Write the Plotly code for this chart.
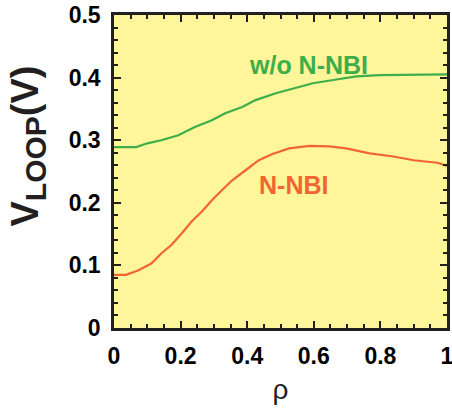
import plotly.graph_objects as go

rho_wo = [0.0, 0.067, 0.10, 0.142, 0.193, 0.243, 0.294, 0.334, 0.385, 0.425, 0.486,
          0.546, 0.597, 0.668, 0.728, 0.799, 0.9, 1.0]
v_wo = [0.289, 0.289, 0.295, 0.300, 0.308, 0.321, 0.332, 0.343, 0.353, 0.364, 0.375,
        0.383, 0.391, 0.397, 0.402, 0.404, 0.405, 0.405]

rho_n = [0.0, 0.036, 0.072, 0.112, 0.142, 0.173, 0.203, 0.233, 0.264, 0.294, 0.324,
         0.355, 0.395, 0.435, 0.476, 0.526, 0.587, 0.647, 0.697, 0.768, 0.839, 0.9,
         0.971, 1.0]
v_n = [0.085, 0.085, 0.092, 0.103, 0.119, 0.133, 0.151, 0.170, 0.186, 0.204, 0.220,
       0.236, 0.252, 0.268, 0.278, 0.287, 0.291, 0.290, 0.287, 0.279, 0.274, 0.268,
       0.264, 0.259]

GREEN = "#3DAE49"
RED = "#F26532"
INK = "#231F20"
FONT = "Liberation Sans, Arial"

fig = go.Figure()
fig.add_trace(go.Scatter(x=rho_wo, y=v_wo, mode="lines", line=dict(color=GREEN, width=2.2)))
fig.add_trace(go.Scatter(x=rho_n, y=v_n, mode="lines", line=dict(color=RED, width=2.2)))

fig.add_annotation(x=0.585, y=0.42, text="w/o N-NBI", showarrow=False,
                   font=dict(family=FONT, size=25, color=GREEN, weight="bold"))
fig.add_annotation(x=0.54, y=0.228, text="N-NBI", showarrow=False,
                   font=dict(family=FONT, size=25, color=RED, weight="bold"))

# y-axis title placed as rotated annotation
fig.add_annotation(xref="paper", yref="paper", x=-0.258, y=0.58,
                   text='V<sub><span style="font-size:30px">LOOP</span></sub>(V)',
                   textangle=-90, showarrow=False,
                   xanchor="center", yanchor="middle",
                   font=dict(family=FONT, size=38, color=INK, weight="bold"))

axis_common = dict(showgrid=False, zeroline=False, showline=True, linecolor=INK,
                   linewidth=2.5, mirror="ticks", ticks="inside", ticklen=7, tickwidth=2,
                   tickcolor=INK, automargin=False, ticklabeloverflow="allow",
                   tickfont=dict(family=FONT, size=23, color="black", weight="bold"))

fig.update_xaxes(range=[0, 1], dtick=0.2, tickformat="~g", ticklabelstandoff=6,
                 minor=dict(dtick=0.05, ticks="inside", ticklen=4, tickwidth=2, tickcolor=INK),
                 title=dict(text="ρ", font=dict(family=FONT, size=28, color=INK),
                            standoff=12),
                 **axis_common)
fig.update_yaxes(range=[0, 0.5], dtick=0.1, tickformat="~g", ticklabelstandoff=6,
                 minor=dict(dtick=0.02, ticks="inside", ticklen=4, tickwidth=2, tickcolor=INK),
                 **axis_common)

fig.update_layout(width=452, height=409, margin=dict(l=114, r=5, t=15, b=81),
                  plot_bgcolor="#FFF59B", paper_bgcolor="white", showlegend=False)

fig.write_html("out.html")
